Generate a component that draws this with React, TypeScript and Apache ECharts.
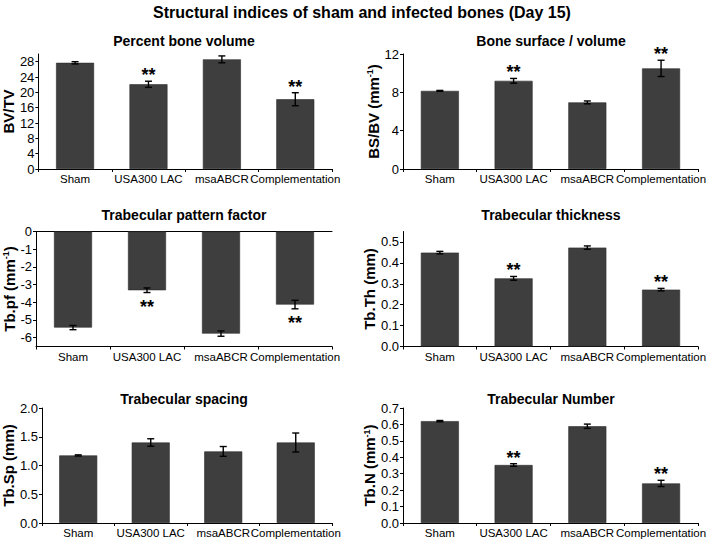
import React, { useEffect, useRef } from "react";
import * as echarts from "echarts";

const categories = ["Sham", "USA300 LAC", "msaABCR", "Complementation"];

const bvtv = [27.7, 22.1, 28.6, 18.2];
const bvtvErr = [0.3, 0.8, 0.9, 1.7];
const bvtvSig = [0, 1, 0, 1];
const bvtvTicks = [0, 4, 8, 12, 16, 20, 24, 28];

const bsbv = [8.15, 9.2, 6.95, 10.5];
const bsbvErr = [0.05, 0.25, 0.15, 0.85];
const bsbvSig = [0, 1, 0, 1];
const bsbvTicks = [0, 4, 8, 12];

const tbpf = [-5.43, -3.32, -5.77, -4.13];
const tbpfErr = [0.12, 0.13, 0.15, 0.24];
const tbpfSig = [0, 1, 0, 1];
const tbpfTicks = [0, -1, -2, -3, -4, -5, -6];

const tbth = [0.449, 0.326, 0.473, 0.272];
const tbthErr = [0.006, 0.009, 0.008, 0.006];
const tbthSig = [0, 1, 0, 1];
const tbthTicks = [0, 0.1, 0.2, 0.3, 0.4, 0.5];

const tbsp = [1.175, 1.4, 1.245, 1.4];
const tbspErr = [0.01, 0.065, 0.085, 0.165];
const tbspSig = [0, 0, 0, 0];
const tbspTicks = [0, 0.5, 1.0, 1.5, 2.0];

const tbn = [0.62, 0.353, 0.589, 0.241];
const tbnErr = [0.004, 0.008, 0.013, 0.019];
const tbnSig = [0, 1, 0, 1];
const tbnTicks = [0, 0.1, 0.2, 0.3, 0.4, 0.5, 0.6, 0.7];

const FONT = '"Liberation Sans", Arial, Helvetica, sans-serif';

const panels = [
  { title: "Percent bone volume", yName: "BV/TV", vals: bvtv, err: bvtvErr, sig: bvtvSig, ticks: bvtvTicks, min: 0, max: 30, dec: 0, left: 36, top: 54, nameGap: 20 },
  { title: "Bone surface / volume", yName: "BS/BV (mm{sup|-1})", vals: bsbv, err: bsbvErr, sig: bsbvSig, ticks: bsbvTicks, min: 0, max: 12, dec: 0, left: 403, top: 54, nameGap: 16 },
  { title: "Trabecular pattern factor", yName: "Tb.pf (mm{sup|-1})", vals: tbpf, err: tbpfErr, sig: tbpfSig, ticks: tbpfTicks, min: -6.5, max: 0, dec: 0, left: 36, top: 231.5, nameGap: 15 },
  { title: "Trabecular thickness", yName: "Tb.Th (mm)", vals: tbth, err: tbthErr, sig: tbthSig, ticks: tbthTicks, min: 0, max: 0.55, dec: 1, left: 403, top: 231.5, nameGap: 21 },
  { title: "Trabecular spacing", yName: "Tb.Sp (mm)", vals: tbsp, err: tbspErr, sig: tbspSig, ticks: tbspTicks, min: 0, max: 2.0, dec: 1, left: 36, top: 408, nameGap: 21 },
  { title: "Trabecular Number", yName: "Tb.N (mm{sup|-1})", vals: tbn, err: tbnErr, sig: tbnSig, ticks: tbnTicks, min: 0, max: 0.7, dec: 1, left: 403, top: 408, nameGap: 21 },
];

const GRID_W = 296;
const GRID_H = 115;
const titleY = [41, 215, 399];

export default function App() {
  const ref = useRef<HTMLDivElement>(null);
  useEffect(() => {
    if (!ref.current) return;
    const chart = echarts.init(ref.current, null, { renderer: "svg" });

    const grids: any[] = [];
    const xAxes: any[] = [];
    const yAxes: any[] = [];
    const series: any[] = [];
    const graphics: any[] = [
      {
        type: "text",
        x: 362,
        y: 12,
        style: { text: "Structural indices of sham and infected bones (Day 15)", font: `bold 16px ${FONT}`, textAlign: "center", textVerticalAlign: "middle", fill: "#000" },
      },
    ];

    panels.forEach((p, i) => {
      grids.push({ left: p.left, top: p.top, width: GRID_W, height: GRID_H, containLabel: false });
      graphics.push({
        type: "text",
        x: p.left + GRID_W / 2,
        y: titleY[Math.floor(i / 2)],
        style: { text: p.title, font: `bold 14px ${FONT}`, textAlign: "center", textVerticalAlign: "middle", fill: "#000" },
      });
      const neg = p.max <= 0;
      xAxes.push({
        type: "category",
        gridIndex: i,
        data: categories,
        position: "bottom",
        axisLine: { onZero: false, lineStyle: { color: "#000", width: 1 } },
        axisTick: { show: true, length: 3, lineStyle: { color: "#000" } },
        axisLabel: { color: "#000", fontFamily: FONT, fontSize: 11.5, margin: 4, interval: 0 },
      });
      yAxes.push({
        type: "value",
        gridIndex: i,
        min: p.min,
        max: p.max,
        name: p.yName,
        nameLocation: "middle",
        nameGap: p.nameGap,
        nameTextStyle: {
          color: "#000",
          fontFamily: FONT,
          fontWeight: "bold",
          fontSize: 15,
          rich: { sup: { fontSize: 9, fontWeight: "bold", fontFamily: FONT, verticalAlign: "top", color: "#000" } },
        },
        splitLine: { show: false },
        axisLine: { show: true, lineStyle: { color: "#000", width: 1 } },
        axisTick: { show: true, length: 3, customValues: p.ticks, lineStyle: { color: "#000" } },
        axisLabel: {
          color: "#000",
          fontFamily: FONT,
          fontSize: 13,
          margin: 4,
          customValues: p.ticks,
          formatter: (v: number) => (p.dec ? v.toFixed(p.dec) : String(Math.round(v))),
        },
      });
      if (neg) {
        xAxes.push({
          type: "category",
          gridIndex: i,
          data: categories,
          position: "top",
          axisLine: { onZero: false, lineStyle: { color: "#000", width: 1 } },
          axisTick: { show: false },
          axisLabel: { show: false },
        });
      }
    });

    const xIndexOf: number[] = [];
    let xi = 0;
    panels.forEach((p) => {
      xIndexOf.push(xi);
      xi += p.max <= 0 ? 2 : 1;
    });

    panels.forEach((p, i) => {
      series.push({
        type: "bar",
        xAxisIndex: xIndexOf[i],
        yAxisIndex: i,
        data: p.vals,
        barWidth: 38,
        itemStyle: { color: "#3e3e3e", borderColor: "#2b2b2b", borderWidth: 0.6 },
        silent: true,
      });
      series.push({
        type: "custom",
        xAxisIndex: xIndexOf[i],
        yAxisIndex: i,
        data: p.vals.map((v, k) => [k, v, p.err[k]]),
        z: 5,
        renderItem: (params: any, api: any) => {
          const k = api.value(0);
          const m = api.value(1);
          const e = api.value(2);
          const top = api.coord([k, m + e]);
          const bot = api.coord([k, m - e]);
          const cx = top[0];
          const hw = 3.5;
          const st = { stroke: "#000", lineWidth: 1.4 };
          return {
            type: "group",
            children: [
              { type: "line", shape: { x1: cx, y1: top[1], x2: cx, y2: bot[1] }, style: st },
              { type: "line", shape: { x1: cx - hw, y1: top[1], x2: cx + hw, y2: top[1] }, style: st },
              { type: "line", shape: { x1: cx - hw, y1: bot[1], x2: cx + hw, y2: bot[1] }, style: st },
            ],
          };
        },
      });
      const starData = p.vals.map((v, k) => [k, v, p.err[k], p.sig[k]]).filter((d) => d[3] === 1);
      if (starData.length) {
        series.push({
          type: "custom",
          xAxisIndex: xIndexOf[i],
          yAxisIndex: i,
          data: starData,
          z: 6,
          renderItem: (params: any, api: any) => {
            const k = api.value(0);
            const m = api.value(1);
            const e = api.value(2);
            const negv = m < 0;
            const end = api.coord([k, negv ? m - e : m + e]);
            return {
              type: "text",
              x: end[0],
              y: negv ? end[1] + 14 : end[1] - 6,
              style: { text: "**", font: `bold 18px ${FONT}`, textAlign: "center", textVerticalAlign: "middle", fill: "#000" },
            };
          },
        });
      }
    });

    chart.setOption({
      animation: false,
      backgroundColor: "#fff",
      grid: grids,
      xAxis: xAxes,
      yAxis: yAxes,
      series,
      graphic: graphics,
    });
    return () => chart.dispose();
  }, []);

  return <div ref={ref} style={{ position: "fixed", left: 0, top: 0, width: 709, height: 540 }} />;
}
